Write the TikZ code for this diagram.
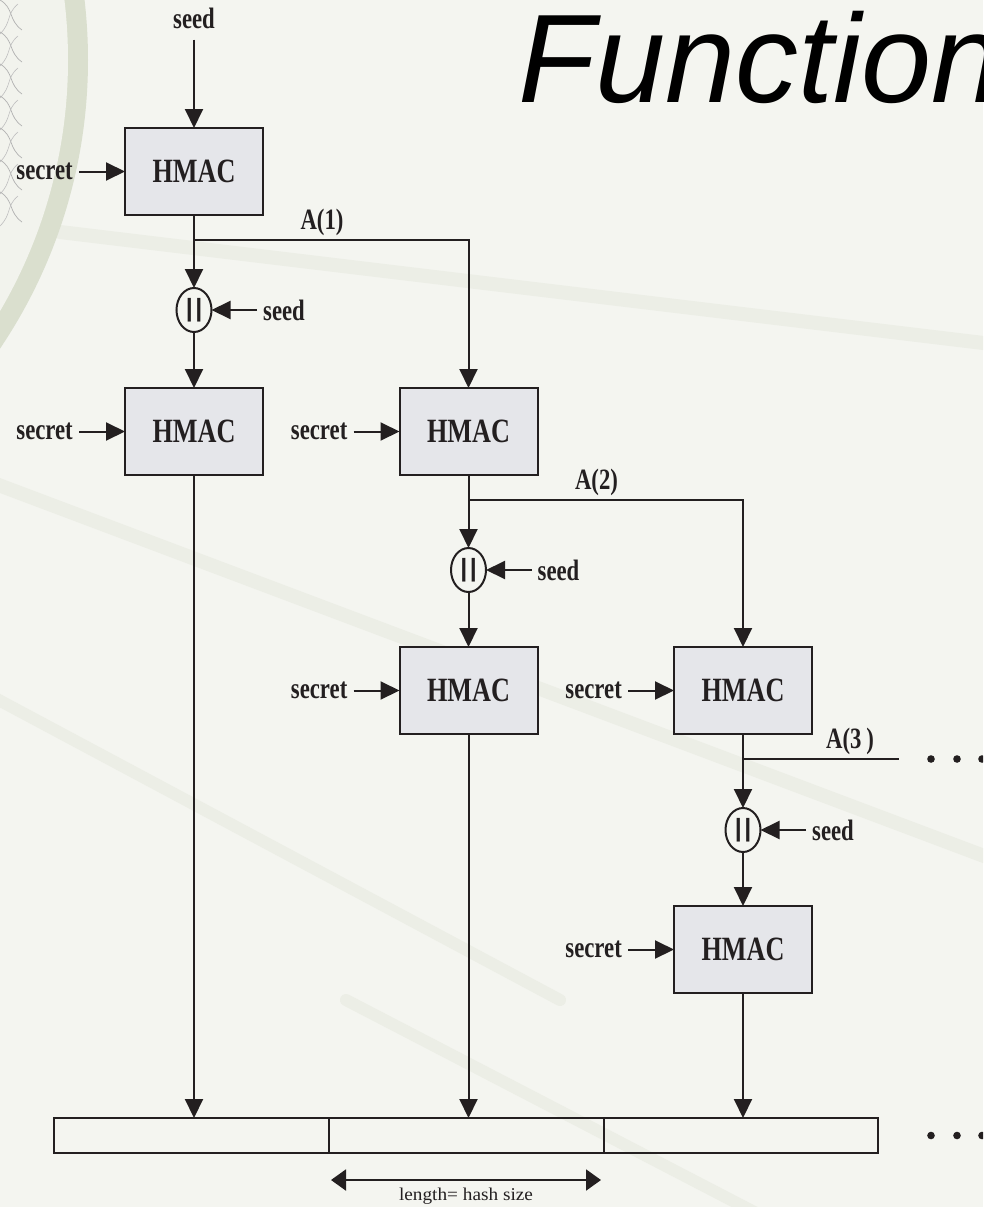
\documentclass[tikz,border=0pt]{standalone}
\usepackage{fontspec}
\setmainfont{Liberation Serif}
\newfontfamily\diagfont[FakeStretch=0.77]{Liberation Serif}
\newfontfamily\titlefont{Liberation Sans}
\usetikzlibrary{arrows.meta,shapes.geometric}
\definecolor{bgc}{RGB}{244,245,240}
\definecolor{boxfill}{RGB}{229,230,234}
\definecolor{ink}{RGB}{35,31,32}
\definecolor{ringc}{RGB}{218,223,206}
\definecolor{ringin}{RGB}{242,243,237}
\definecolor{streak}{RGB}{236,238,230}
\begin{document}
\begin{tikzpicture}[x=1pt,y=-1pt,
  hmac/.style={draw=ink, fill=boxfill, line width=2pt, minimum width=138pt, minimum height=87pt,
    inner sep=0pt, outer sep=0pt, text=ink, font=\diagfont\bfseries\fontsize{34}{34}\selectfont},
  catnode/.style={ellipse, draw=ink, line width=2pt, minimum width=35pt, minimum height=44pt,
    inner sep=0pt, outer sep=0pt, text=ink, font=\titlefont\bfseries\fontsize{25}{25}\selectfont},
  lab/.style={inner sep=0pt, text=ink, font=\diagfont\bfseries\fontsize{29.5}{29.5}\selectfont},
  conn/.style={draw=ink, line width=2pt},
  arr/.style={conn, -{Triangle[length=19pt,width=18pt]}},
  outcell/.style={draw=ink, line width=2pt, minimum width=274.67pt, minimum height=35pt, inner sep=0pt, outer sep=0pt},
  dotmark/.style={fill=ink}
]
\useasboundingbox (0,0) rectangle (983,1207);
\clip (0,0) rectangle (983,1207);
% background
\fill[bgc] (0,0) rectangle (983,1207);
\draw[streak, line width=14pt, line cap=round] (60,232) -- (1000,345);
\draw[streak, line width=14pt, line cap=round] (-20,478) -- (1000,862);
\draw[streak, line width=12pt, line cap=round] (-20,690) -- (560,1000);
\draw[streak, line width=12pt, line cap=round] (346,1000) -- (760,1215);
\fill[ringc] (-429,60) circle (517);
\fill[ringin] (-429,60) circle (497);
\foreach \k in {0,...,6}{
  \draw[gray!60, line width=0.7pt] (0,{\k*32}) .. controls (14,{\k*32+8}) and (8,{\k*32+20}) .. (22,{\k*32+30});
  \draw[gray!50, line width=0.6pt] (18,{\k*32+4}) .. controls (6,{\k*32+14}) and (12,{\k*32+22}) .. (0,{\k*32+34});
}
% title
\node[anchor=base west, inner sep=0pt, text=black, font=\titlefont\itshape\fontsize{126}{126}\selectfont] (title) at (518,102) {Function};
% HMAC boxes
\node[hmac] (h1) at (194,171.5) {HMAC};
\node[hmac] (h2) at (194,431.5) {HMAC};
\node[hmac] (h3) at (468.5,431.5) {HMAC};
\node[hmac] (h4) at (468.5,690.5) {HMAC};
\node[hmac] (h5) at (743,690.5) {HMAC};
\node[hmac] (h6) at (743,949.5) {HMAC};
% concatenation nodes
\node[catnode] (c1) at (194,310) {|\kern2.5pt|};
\node[catnode] (c2) at (468.5,570) {|\kern2.5pt|};
\node[catnode] (c3) at (743,830) {|\kern2.5pt|};
% top seed
\node[lab, inner ysep=11pt] (seed0) at (194,18) {seed};
\draw[arr] (seed0.south) -- (h1.north);
% secret inputs
\foreach \b in {h1,h2,h3,h4,h5,h6}{
  \node[lab, inner xsep=6pt, anchor=east] (sec-\b) at ([xshift=-46pt]\b.west) {secret};
  \draw[arr] (sec-\b.east) -- (\b.west);
}
% seed inputs to concatenation
\foreach \c in {c1,c2,c3}{
  \node[lab, inner xsep=6pt, anchor=west] (sd-\c) at ([xshift=63pt]\c.center) {seed};
  \draw[arr] (sd-\c.west) -- (\c.east);
}
% junctions
\coordinate (j1) at (194,240);
\coordinate (j2) at (468.5,500);
\coordinate (j3) at (743,759);
\coordinate (e3) at (899,759);
\draw[arr] (h1.south) -- (c1.north);
\draw[arr] (j1) -| (h3.north);
\draw[arr] (c1.south) -- (h2.north);
\draw[arr] (h3.south) -- (c2.north);
\draw[arr] (j2) -| (h5.north);
\draw[arr] (c2.south) -- (h4.north);
\draw[arr] (h5.south) -- (c3.north);
\draw[conn] (j3) -- (e3);
\draw[arr] (c3.south) -- (h6.north);
% A labels
\node[lab, anchor=south] (a1) at (322,236) {A(1)};
\node[lab, anchor=south] (a2) at (596.5,496) {A(2)};
\node[lab, anchor=south] (a3) at (850,755) {A(3\,)};
% continuation dots
\fill[dotmark] (931,759) circle (3.8);
\fill[dotmark] (957,759) circle (3.8);
\fill[dotmark] (982,759) circle (3.8);
% output buffer
\node[outcell] (cell1) at (191.5,1135.5) {};
\node[outcell] (cell2) at (466.17,1135.5) {};
\node[outcell] (cell3) at (740.83,1135.5) {};
\draw[arr] (h2.south) -- (h2.south |- cell1.north);
\draw[arr] (h4.south) -- (h4.south |- cell2.north);
\draw[arr] (h6.south) -- (h6.south |- cell3.north);
\fill[dotmark] (931,1135.5) circle (3.8);
\fill[dotmark] (957,1135.5) circle (3.8);
\fill[dotmark] (982,1135.5) circle (3.8);
% length indicator
\coordinate (la) at (331,1180);
\coordinate (lb) at (601,1180);
\draw[draw=ink, line width=2pt, {Triangle[length=15pt,width=21pt]}-{Triangle[length=15pt,width=21pt]}] (la) -- (lb);
\node[inner sep=0pt, text=ink, font=\fontsize{18}{18}\selectfont] (len) at (466,1196) {\scalebox{1.07}[1]{length= hash size}};
\end{tikzpicture}
\end{document}
